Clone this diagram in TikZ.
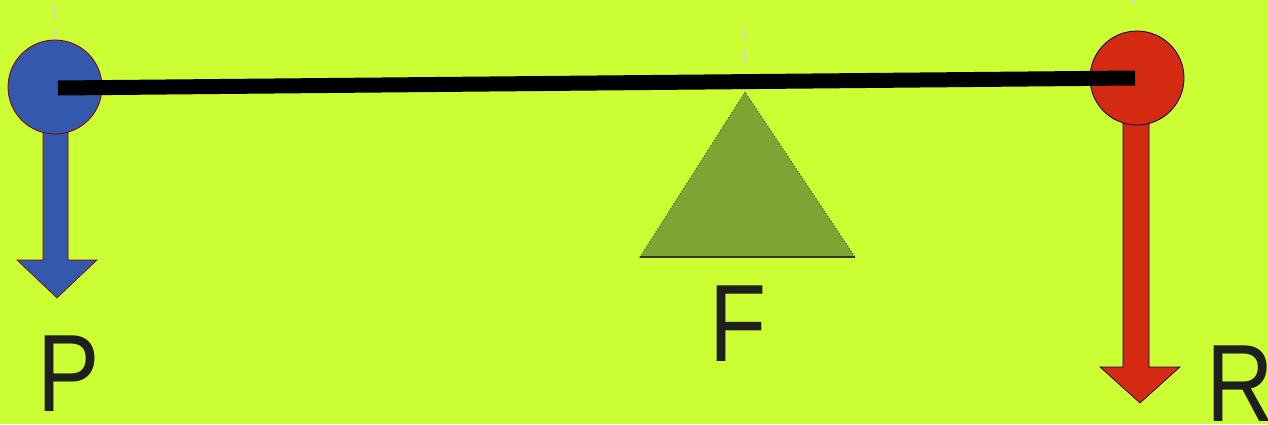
\documentclass[tikz,border=0pt]{standalone}
\usepackage{fontspec}
\setmainfont{Liberation Sans}
\definecolor{bgc}{RGB}{204,255,51}
\definecolor{bluec}{RGB}{52,88,172}
\definecolor{redc}{RGB}{212,42,18}
\definecolor{trig}{RGB}{126,164,52}
\definecolor{dashc}{RGB}{215,215,195}
\begin{document}
\begin{tikzpicture}[x=1pt,y=-1pt,
  ball/.style={circle,inner sep=0pt,minimum size=94pt,line width=0.8pt},
  lbl/.style={inner sep=0pt,anchor=base,xscale=0.85,font=\fontsize{110}{110}\selectfont,text=black!88},
  guide/.style={draw=dashc,line width=2pt,dash pattern=on 14pt off 9pt},
  beam/.style={line width=15pt,line cap=butt,draw=black}]
\fill[bgc] (0,0) rectangle (1268,424);
\useasboundingbox (0,0) rectangle (1268,424);
% guides
\draw[guide] (55,5) -- (55,42);
\draw[guide] (745,27) -- (745,66);
\fill[dashc] (1132,0) rectangle (1135,3);
% arrows (force vectors)
\fill[bluec,draw=red!50!black,line width=0.6pt] (43,120) -- (43,260) -- (17,260) -- (57,298) -- (97,260) -- (68,260) -- (68,120) -- cycle;
\fill[redc,draw=blue!40!black,line width=0.6pt] (1123,115) -- (1123,367) -- (1100,367) -- (1140,403) -- (1180,367) -- (1149,367) -- (1149,115) -- cycle;
% balls
\node[ball,fill=bluec,draw=red!50!black] (pb) at (55,87) {};
\node[ball,fill=redc,draw=blue!40!black] (rb) at (1137,78) {};
% fulcrum
\coordinate (apex) at (745,92);
\coordinate (bl) at (640,257);
\coordinate (br) at (855,257);
\fill[trig,draw=gray!70!black,line width=1pt,dotted] (apex) -- (bl) -- (br) -- cycle;
\draw[black!80,line width=2pt] (bl) -- (br);
% beam
\coordinate (bL) at (58,88);
\coordinate (bR) at (1135,78);
\draw[beam] (bL) -- (bR);
% labels
\node[lbl] (P) at (69,411) {P};
\node[lbl] (F) at (738,361) {F};
\node[lbl] (R) at (1240,421) {R};
\end{tikzpicture}
\end{document}
